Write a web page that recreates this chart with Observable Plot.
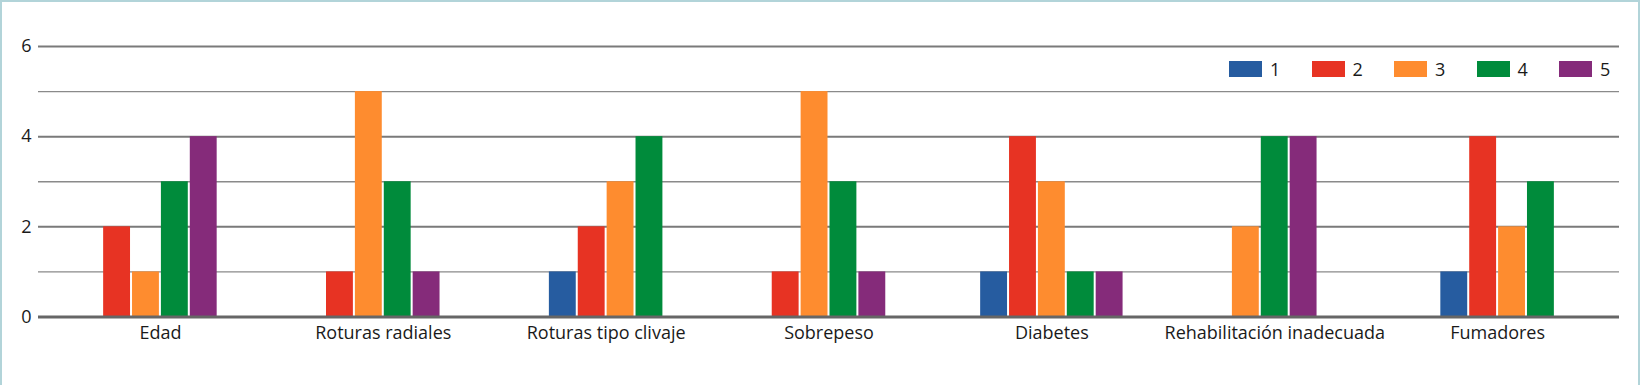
<!DOCTYPE html>
<html>
<head>
<meta charset="utf-8">
<script src="https://cdn.jsdelivr.net/npm/d3@7"></script>
<script src="https://cdn.jsdelivr.net/npm/@observablehq/plot@0.6"></script>
<style>
  html, body { margin: 0; padding: 0; background: #fff; }
  #wrap { position: relative; width: 1640px; height: 385px; overflow: hidden; font-family: "Open Sans", "Noto Sans", sans-serif; color: #1a1a1a; }
  #frame { position: absolute; left: 0; top: 0; width: 1640px; height: 385px; box-sizing: border-box; border: 2px solid #b2d4d9; border-bottom: none; pointer-events: none; }
  #chart { position: absolute; left: 0; top: 0; }
  #legend { position: absolute; left: 1229px; top: 61px; display: flex; }
  .item { width: 82.5px; display: flex; align-items: center; font-size: 18px; line-height: 16px; }
  .sw { width: 33px; height: 16px; margin-right: 8px; }
</style>
</head>
<body>
<div id="wrap">
  <div id="chart"></div>
  <div id="legend"></div>
  <div id="frame"></div>
</div>
<script>
const categories = ["Edad", "Roturas radiales", "Roturas tipo clivaje", "Sobrepeso", "Diabetes", "Rehabilitación inadecuada", "Fumadores"];
const seriesNames = ["1", "2", "3", "4", "5"];
const s1 = [0, 0, 1, 0, 1, 0, 1];
const s2 = [2, 1, 2, 1, 4, 0, 4];
const s3 = [1, 5, 3, 5, 3, 2, 2];
const s4 = [3, 3, 4, 3, 1, 4, 3];
const s5 = [4, 1, 0, 1, 1, 4, 0];
const colors = ["#265ca0", "#e73323", "#fe8c2f", "#008b3b", "#852b7a"];
const yTicks = [0, 2, 4, 6];
const yMinor = [1, 3, 5];

const values = [s1, s2, s3, s4, s5];
const rows = [];
categories.forEach((c, i) => {
  const present = seriesNames.map((s, k) => ({s, v: values[k][i]})).filter(d => d.v > 0);
  present.forEach((d, j) => rows.push({cat: i, series: d.s, value: d.v, pos: j - (present.length - 1) / 2}));
});
const slot = 0.1296;

const chart = Plot.plot({
  width: 1640,
  height: 385,
  marginLeft: 38,
  marginRight: 21,
  marginTop: 46,
  marginBottom: 68.5,
  x: {domain: [-0.547, 6.547], axis: null},
  y: {domain: [0, 6], axis: null},
  color: {domain: seriesNames, range: colors},
  style: {fontFamily: "'Open Sans', 'Noto Sans', sans-serif", fontSize: "18px", color: "#1a1a1a", background: "transparent"},
  marks: [
    Plot.ruleY(yMinor, {stroke: "#8a8a8a", strokeWidth: 1.3}),
    Plot.ruleY(yTicks.filter(d => d > 0), {stroke: "#7a7a7a", strokeWidth: 2}),
    Plot.rect(rows, {
      x1: d => d.cat + (d.pos - 0.5) * slot,
      x2: d => d.cat + (d.pos + 0.5) * slot,
      y1: 0,
      y2: "value",
      fill: "series",
      insetLeft: 1,
      insetRight: 1
    }),
    Plot.ruleY([0], {stroke: "#666", strokeWidth: 3}),
    Plot.axisX({ticks: d3.range(categories.length), tickFormat: i => categories[i], tickSize: 0, tickPadding: 9, fontSize: 18, label: null}),
    Plot.axisY({ticks: yTicks, tickFormat: d3.format("d"), tickSize: 0, tickPadding: 7, fontSize: 18, label: null})
  ]
});
document.getElementById("chart").appendChild(chart);

const legend = document.getElementById("legend");
seriesNames.forEach((s, k) => {
  const it = document.createElement("div");
  it.className = "item";
  const sw = document.createElement("span");
  sw.className = "sw";
  sw.style.background = colors[k];
  const lb = document.createElement("span");
  lb.textContent = s;
  it.appendChild(sw);
  it.appendChild(lb);
  legend.appendChild(it);
});
</script>
</body>
</html>
